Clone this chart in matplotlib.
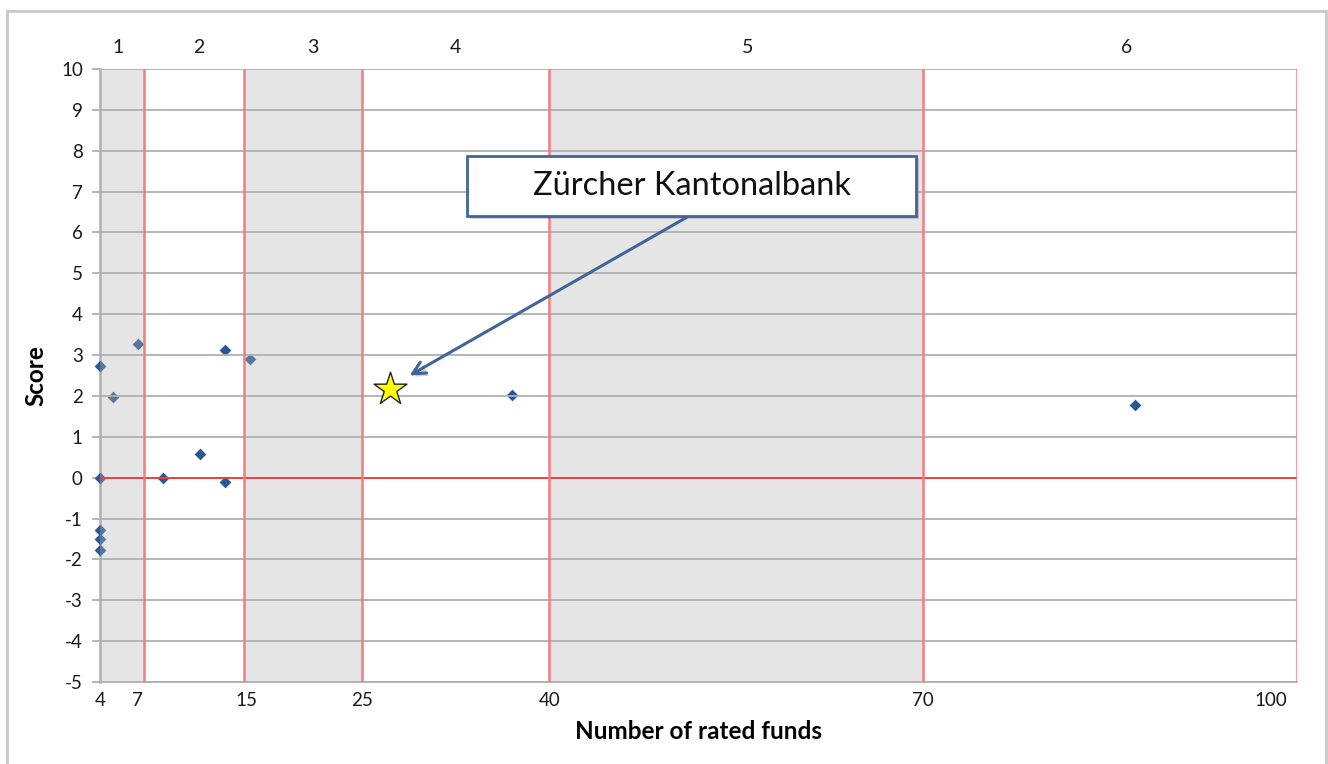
from matplotlib import pyplot as plt
from matplotlib.patches import Rectangle
import matplotlib.patheffects as pe

plt.rcParams['font.family'] = ['Lato', 'DejaVu Sans']
plt.rcParams['axes.unicode_minus'] = False

# number of rated funds / score for each bank
funds = [4, 4, 4, 4, 4, 5, 7, 9, 12, 14, 14, 16, 37, 87]
scores = [2.73, 0.0, -1.27, -1.51, -1.76, 1.98, 3.26, 0.0, 0.57, 3.12, -0.1, 2.91, 2.03, 1.77]

# highlighted bank
zkb_funds = 27.2
zkb_score = 2.18

# group boundaries and group names
bounds = [3.92, 7.5, 15.5, 25, 40, 70, 100]
groups = ['1', '2', '3', '4', '5', '6']
group_x = [5.4, 11.9, 21.0, 32.5, 55.9, 86.3]

xtick_pos = [4, 7, 15.7, 25, 40, 70, 99.2]
xtick_lab = ['4', '7', '15', '25', '40', '70', '100']
yticks = list(range(-5, 11))

fig = plt.figure(figsize=(13.28, 7.64), dpi=100)
ax = fig.add_axes([99.5 / 1328, 82 / 764, 1197.5 / 1328, 613 / 764])

# points first, shaded bands drawn over them (like the original)
ax.scatter(funds, scores, marker='D', s=36, color='#2b5797', zorder=2, linewidths=0,
           clip_on=False)

for i in range(len(groups)):
    if i % 2 == 0:
        ax.axvspan(bounds[i], bounds[i + 1], facecolor='#b4b4b4', alpha=0.34,
                   zorder=3, linewidth=0)
    ax.text(group_x[i], 10.52, groups[i], ha='center', va='center', fontsize=14,
            color='#1a1a1a')

for y in yticks:
    ax.axhline(y, color='#b0b0b0', lw=1.3, zorder=4)
ax.axhline(0, color='#ff2020', lw=1.1, zorder=5)
for b in bounds[1:]:
    ax.axvline(b, color='#f47c7c', lw=1.8, zorder=5)

ax.scatter([zkb_funds], [zkb_score], marker='*', s=620, color='#ffff00',
           edgecolors='#222222', linewidths=1.0, zorder=7)

ax.set_xlim(bounds[0], 100)
ax.set_ylim(-5, 10)
ax.set_yticks(yticks)
ax.set_xticks(xtick_pos)
ax.set_xticklabels(xtick_lab)
ax.get_xticklabels()[-1].set_ha('right')
ax.tick_params(axis='y', length=6, width=1.3, color='#b0b0b0', labelsize=13.5, pad=6,
               labelcolor='#1a1a1a')
ax.tick_params(axis='x', length=0, labelsize=13.5, pad=7, labelcolor='#1a1a1a')

for side in ['top', 'right']:
    ax.spines[side].set_visible(False)
ax.spines['left'].set_color('#b8b8b8')
ax.spines['left'].set_linewidth(2)
ax.spines['left'].set_zorder(1)
ax.spines['bottom'].set_color('#b0b0b0')
ax.spines['bottom'].set_linewidth(1.3)

ax.set_ylabel('Score', fontsize=17.5, fontweight='bold', labelpad=10)
ax.set_xlabel('Number of rated funds', fontsize=17.5, fontweight='bold', labelpad=8)

# callout box with arrow
shadow = [pe.SimplePatchShadow(offset=(2, -2), alpha=0.25), pe.Normal()]
box = Rectangle((0.3069, 0.7602), 0.3749, 0.0984, transform=ax.transAxes,
                facecolor='white', edgecolor='#41659a', lw=2, zorder=8)
box.set_path_effects(shadow)
ax.add_patch(box)
ax.text(0.4944, 0.8094, 'Zürcher Kantonalbank', transform=ax.transAxes,
        ha='center', va='center', fontsize=23.5, color='#111111', zorder=9)
arr = ax.annotate('', xy=(28.8, 2.5), xycoords='data',
                  xytext=(0.4903, 0.758), textcoords='axes fraction',
                  arrowprops=dict(arrowstyle='->,head_length=0.9,head_width=0.45',
                                  color='#41659a', lw=2.2, shrinkA=0, shrinkB=0),
                  zorder=8)
arr.arrow_patch.set_path_effects(shadow)

# chart area border
fig.patches.append(Rectangle((7 / 1328, -0.05), 1319 / 1328, 0.05 + 753 / 764,
                             transform=fig.transFigure, fill=False,
                             edgecolor='#c8c8c8', lw=2))

fig.savefig('out.png', dpi=100)
